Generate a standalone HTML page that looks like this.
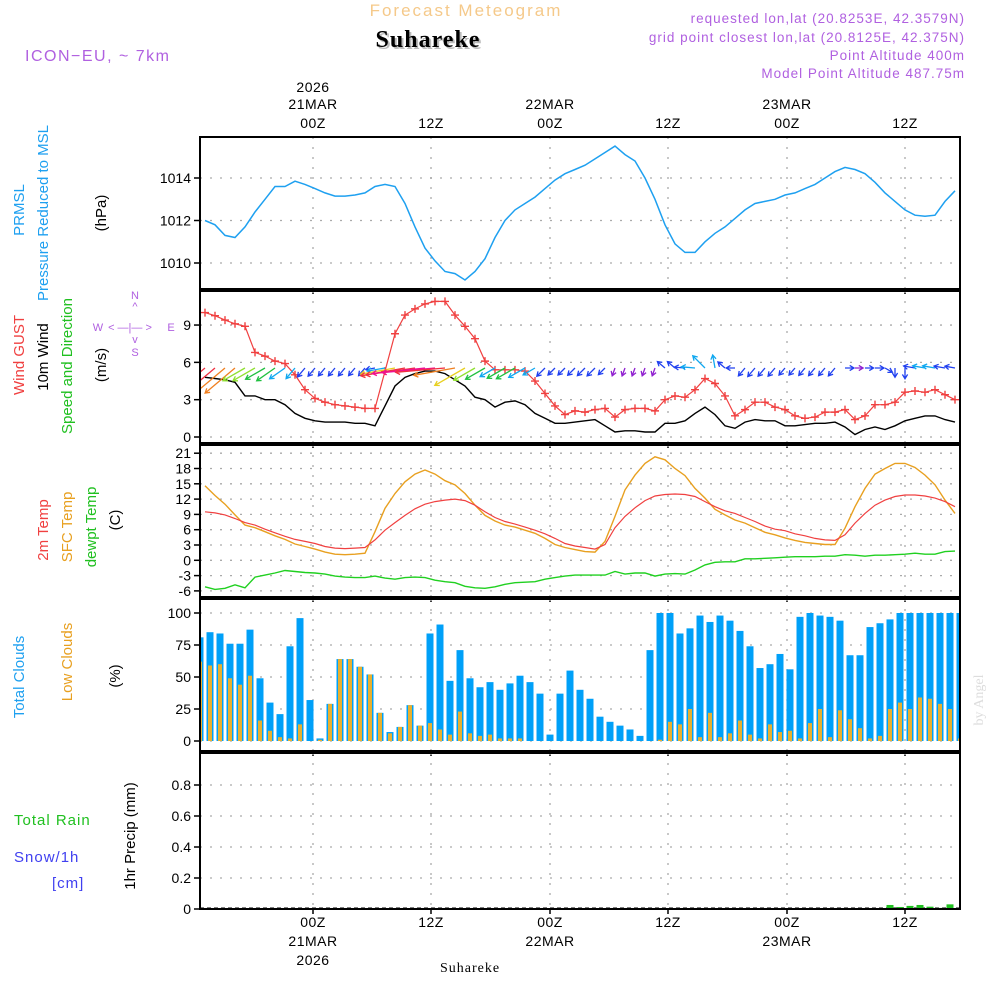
<!DOCTYPE html>
<html><head><meta charset="utf-8">
<style>
html,body{margin:0;padding:0;background:#fff;}
svg{display:block;font-family:"Liberation Sans",sans-serif;}
.t{font-size:14px;fill:#000;letter-spacing:0.5px}
</style></head>
<body>
<svg id="chart" width="1000" height="1000" viewBox="0 0 1000 1000" xmlns="http://www.w3.org/2000/svg">
  <text x="466" y="16" text-anchor="middle" font-size="17" fill="#f5c98a" letter-spacing="2">Forecast Meteogram</text>
  <text x="430" y="49" text-anchor="middle" font-size="24" font-weight="bold" font-family="Liberation Serif,serif" fill="#bbb" letter-spacing="1">Suhareke</text>
  <text x="428" y="47" text-anchor="middle" font-size="24" font-weight="bold" font-family="Liberation Serif,serif" fill="#000" letter-spacing="1">Suhareke</text>
  <text x="25" y="61" font-size="16" fill="#b060e0" letter-spacing="1.5">ICON−EU, ~ 7km</text>
  <g font-size="13.5" fill="#b060e0" text-anchor="end" letter-spacing="1">
    <text x="965" y="23">requested lon,lat (20.8253E, 42.3579N)</text>
    <text x="965" y="42">grid point closest lon,lat (20.8125E, 42.375N)</text>
    <text x="965" y="60">Point Altitude 400m</text>
    <text x="965" y="78">Model Point Altitude 487.75m</text>
  </g>
  <text transform="translate(983,700) rotate(-90)" text-anchor="middle" font-size="14" fill="#ddd" font-family="Liberation Serif,serif">by Angel</text>

  <g font-size="15">
    <text transform="translate(24,210) rotate(-90)" text-anchor="middle" fill="#1ea0f0">PRMSL</text>
    <text transform="translate(48,213) rotate(-90)" text-anchor="middle" fill="#1ea0f0">Pressure Reduced to MSL</text>
    <text transform="translate(106,213) rotate(-90)" text-anchor="middle" fill="#000">(hPa)</text>
    <text transform="translate(24,355) rotate(-90)" text-anchor="middle" fill="#f04040">Wind GUST</text>
    <text transform="translate(48,357) rotate(-90)" text-anchor="middle" fill="#000">10m Wind</text>
    <text transform="translate(72,366) rotate(-90)" text-anchor="middle" fill="#20c020">Speed and Direction</text>
    <text transform="translate(106,365) rotate(-90)" text-anchor="middle" fill="#000">(m/s)</text>
    <text transform="translate(48,530) rotate(-90)" text-anchor="middle" fill="#f04040">2m Temp</text>
    <text transform="translate(72,527) rotate(-90)" text-anchor="middle" fill="#e8a020">SFC Temp</text>
    <text transform="translate(96,527) rotate(-90)" text-anchor="middle" fill="#20c020">dewpt Temp</text>
    <text transform="translate(120,520) rotate(-90)" text-anchor="middle" fill="#000">(C)</text>
    <text transform="translate(24,677) rotate(-90)" text-anchor="middle" fill="#1ea0f0">Total Clouds</text>
    <text transform="translate(72,662) rotate(-90)" text-anchor="middle" fill="#e8a020">Low Clouds</text>
    <text transform="translate(120,676) rotate(-90)" text-anchor="middle" fill="#000">(%)</text>
    <text x="14" y="825" fill="#20c020" letter-spacing="1">Total  Rain</text>
    <text x="14" y="862" fill="#4040f0" letter-spacing="1">Snow/1h</text>
    <text x="52" y="888" fill="#4040f0" letter-spacing="1">[cm]</text>
    <text transform="translate(135,836) rotate(-90)" text-anchor="middle" fill="#000">1hr Precip (mm)</text>
  </g>
  <g font-size="11" fill="#b060e0" text-anchor="middle">
    <text x="135" y="299">N</text><text x="135" y="310">^</text>
    <text x="98" y="331">W</text><text x="130" y="331">&lt; —|— &gt;</text>
    <text x="171" y="331">E</text>
    <text x="135" y="343">v</text><text x="135" y="356">S</text>
  </g>
  <g id="plots"></g>
</svg>
<script>
// ---- data (hourly) ----
const timeLabelsTop = ["00Z","12Z","00Z","12Z","00Z","12Z"];
const dateLabels = ["21MAR","","22MAR","","23MAR",""];
const pressure = [1012.0,1011.8,1011.3,1011.2,1011.7,1012.4,1013.0,1013.6,1013.6,1013.85,1013.7,1013.5,1013.3,1013.15,1013.15,1013.2,1013.3,1013.6,1013.7,1013.6,1012.8,1011.7,1010.7,1010.1,1009.6,1009.5,1009.2,1009.6,1010.2,1011.2,1012.0,1012.5,1012.8,1013.1,1013.5,1013.9,1014.2,1014.4,1014.6,1014.9,1015.2,1015.5,1015.1,1014.8,1014.0,1013.0,1011.8,1010.9,1010.5,1010.5,1011.0,1011.4,1011.7,1012.1,1012.5,1012.8,1012.9,1013.0,1013.2,1013.3,1013.5,1013.7,1014.0,1014.3,1014.5,1014.4,1014.2,1013.8,1013.3,1012.9,1012.5,1012.25,1012.2,1012.25,1012.9,1013.4];
const windGust = [10.0,9.75,9.4,9.1,8.9,6.8,6.5,6.1,5.9,5.0,3.8,3.1,2.8,2.6,2.5,2.4,2.3,2.3,5.3,8.3,9.8,10.3,10.7,10.9,10.9,9.8,8.9,7.9,6.1,5.4,5.4,5.4,5.3,4.5,3.5,2.5,1.8,2.1,2.0,2.2,2.3,1.6,2.2,2.3,2.3,2.1,3.0,3.3,3.2,3.8,4.7,4.3,3.3,1.7,2.2,2.8,2.8,2.4,2.2,1.7,1.5,1.6,2.0,2.0,2.2,1.4,1.7,2.6,2.6,2.8,3.6,3.7,3.6,3.8,3.4,3.0];
const windSpeed = [4.8,4.7,4.6,4.4,3.3,3.3,3.0,3.0,2.6,1.9,1.5,1.3,1.2,1.2,1.2,1.1,1.1,0.9,2.5,4.1,4.8,5.1,5.3,5.3,5.1,4.6,4.1,3.2,3.0,2.4,2.8,2.9,2.6,1.9,1.5,1.1,1.1,1.2,1.3,1.4,0.9,0.4,0.5,0.5,0.4,0.4,1.1,1.1,1.3,1.9,2.4,1.8,0.9,0.7,1.2,1.4,1.3,1.3,0.9,0.9,1.0,1.1,1.1,1.2,0.8,0.2,0.6,0.8,0.6,0.9,1.3,1.5,1.7,1.7,1.4,1.2];
const windDir = [50,50,50,50,60,60,60,55,55,40,40,40,40,40,40,40,40,80,80,80,80,82,84,85,85,80,60,60,60,60,60,60,60,60,45,45,45,45,45,45,45,20,20,20,20,20,130,130,95,95,135,170,130,90,40,40,40,40,40,40,40,40,40,40,270,270,270,270,300,0,0,100,100,100,100,100];
const temp2m = [9.5,9.3,8.9,8.2,7.4,6.9,6.1,5.4,4.7,4.1,3.7,3.3,2.7,2.4,2.3,2.4,2.5,4.0,5.9,7.4,8.8,10.1,11.0,11.5,11.8,12.0,11.7,10.8,9.5,8.4,7.6,7.1,6.5,5.9,5.2,4.3,3.3,2.8,2.5,2.2,3.1,6.4,8.6,10.3,11.7,12.6,12.9,13.0,12.9,12.5,11.5,10.5,9.7,9.2,8.4,7.6,6.7,6.1,5.8,5.2,4.8,4.3,4.0,3.9,5.0,7.3,9.2,10.8,11.8,12.5,12.8,12.8,12.6,12.2,11.5,10.5];
const tempSfc = [14.6,12.7,11.0,8.9,6.9,6.4,5.6,4.8,4.1,3.2,2.7,2.2,1.6,1.2,1.1,1.2,1.4,5.6,10.2,13.1,15.4,16.9,17.7,16.9,15.6,14.8,13.1,10.8,8.8,7.7,6.9,6.5,5.9,5.3,4.3,3.1,2.5,2.1,1.7,1.6,3.7,8.6,13.8,16.7,19.0,20.3,19.7,18.0,16.6,14.1,12.2,10.0,8.9,7.9,7.3,6.4,5.5,5.0,4.4,3.9,3.5,3.3,3.1,3.1,6.3,10.5,14.1,16.9,18.0,19.0,19.0,18.2,16.7,14.8,11.8,9.2];
const dewpt = [-5.2,-5.7,-5.5,-4.8,-5.4,-3.3,-2.9,-2.5,-2.0,-2.2,-2.4,-2.5,-2.7,-3.1,-3.3,-3.4,-3.4,-3.1,-3.5,-3.7,-3.4,-3.3,-3.4,-3.9,-4.2,-4.4,-5.1,-5.4,-5.5,-5.2,-4.7,-4.4,-4.3,-4.2,-3.7,-3.4,-3.1,-2.9,-2.9,-2.9,-2.9,-2.2,-2.7,-2.5,-2.5,-3.1,-2.7,-2.6,-2.7,-1.9,-0.9,-0.4,-0.3,-0.3,0.3,0.3,0.4,0.5,0.6,0.7,0.7,0.7,0.8,0.8,1.1,1.0,0.8,1.0,1.0,1.1,1.2,1.4,1.2,1.2,1.7,1.8];
const totalClouds = [81,85,84,76,76,87,49,30,21,74,96,32,2,29,64,64,58,52,22,7,11,28,12,84,91,47,71,49,42,46,40,45,51,46,37,5,37,55,40,33,19,15,12,9,4,71,100,100,84,88,98,93,98,94,86,74,57,60,68,56,97,100,98,97,94,67,67,89,92,95,100,100,100,100,100,100,100];
const lowClouds = [62,59,60,49,44,51,16,8,3,2,13,0,1,29,64,64,58,52,22,6,11,28,12,14,9,5,23,6,4,5,2,2,2,0,0,0,0,0,0,0,0,0,0,0,0,0,1,15,13,25,3,22,3,6,16,5,2,13,7,8,2,14,25,3,24,17,10,2,4,25,30,25,34,33,29,25,2];
const precip = [0,0,0,0,0,0,0,0,0,0,0,0,0,0,0,0,0,0,0,0,0,0,0,0,0,0,0,0,0,0,0,0,0,0,0,0,0,0,0,0,0,0,0,0,0,0,0,0,0,0,0,0,0,0,0,0,0,0,0,0,0,0,0,0,0,0,0,0,0,0.026,0.013,0.02,0.026,0.015,0.007,0.03,0];
const pressureTicks = [1010,1012,1014];
const windTicks = [0,3,6,9];
const tempTicks = [-6,-3,0,3,6,9,12,15,18,21];
const cloudTicks = [0,25,50,75,100];
const precipTicks = [0,0.2,0.4,0.6,0.8];

// ---- layout / scales ----
const NS="http://www.w3.org/2000/svg";
const X0=200,X1=960;
const lineX = i => 205 + i*10;
const barX = i => 200 + i*10;
const gridXs = [313,431,550,668,787,905];
const panels = {
  pres:{top:137,bot:289,y:v=>263-(v-1010)*21.25},
  wind:{top:291,bot:443,y:v=>437-v*12.44},
  temp:{top:445,bot:597,y:v=>560.3-v*5.1},
  cloud:{top:599,bot:751,y:v=>741-v*1.28},
  precip:{top:753,bot:909,y:v=>909-v*155}
};
const root=document.getElementById('plots');
function el(tag,attrs,parent){const e=document.createElementNS(NS,tag);for(const k in attrs)e.setAttribute(k,attrs[k]);(parent||root).appendChild(e);return e;}

const clip=el('clipPath',{id:'plotclip'});
el('rect',{x:X0,y:0,width:X1-X0,height:1000},clip);

function panel(key,ticks,fmt,name){
  const p=panels[key];
  const g=el('g',{});
  
  
  ticks.forEach(t=>{
    const y=p.y(t);
    const gl=el('line',{x1:X0,x2:X1,y1:y,y2:y,stroke:'#aaa','stroke-width':1.3,'stroke-dasharray':'2,8'},g);
    
    
    el('line',{x1:X0-6,x2:X0,y1:y,y2:y,stroke:'#000','stroke-width':1.5},g);
    const tx=el('text',{x:X0-9,y:y+5,'text-anchor':'end','font-size':14,fill:'#000'},g);
    tx.textContent=fmt(t);
    
    
  });
  gridXs.forEach(x=>{
    el('line',{x1:x,x2:x,y1:p.top,y2:p.bot,stroke:'#aaa','stroke-width':1.3,'stroke-dasharray':'2,8'},g);
    el('line',{x1:x,x2:x,y1:p.bot,y2:p.bot+5,stroke:'#000','stroke-width':1.5},g);
  });
  return g;
}
function frame(key,name){
  const p=panels[key];
  const r=el('rect',{x:X0,y:p.top,width:X1-X0,height:p.bot-p.top,fill:'none',stroke:'#000','stroke-width':2});
  
  
}
function line(arr,yf,color,name,w){
  const pts=arr.map((v,i)=>lineX(i)+','+yf(v).toFixed(1)).join(' ');
  const l=el('polyline',{points:pts,fill:'none',stroke:color,'stroke-width':w||1.3,'clip-path':'url(#plotclip)'});
  
  
  return l;
}

// pressure
panel('pres',pressureTicks,v=>String(v),'pressure');
line(pressure,panels.pres.y,'#1ea0f0','pressure-line',1.5);
frame('pres','pressure');

// wind
panel('wind',windTicks,v=>String(v),'wind');
line(windSpeed,panels.wind.y,'#000','wind-speed-line',1.4);
line(windGust,panels.wind.y,'#f04040','wind-gust-line',1.2);
windGust.forEach((v,i)=>{
  const x=lineX(i),y=panels.wind.y(v);
  const m=el('path',{d:`M${x-4} ${y}H${x+4}M${x} ${y-4}V${y+4}`,stroke:'#f04040','stroke-width':1.4,'clip-path':'url(#plotclip)'});
  
  
});
function windColor(s){
  if(s<0.6) return '#9020d0';
  if(s<1.6) return '#2040f0';
  if(s<2.7) return '#10a8f0';
  if(s<3.1) return '#20c040';
  if(s<3.5) return '#90e030';
  if(s<4.2) return '#e8d020';
  if(s<4.7) return '#f08020';
  if(s<5.2) return '#f03040';
  return '#f01090';
}
windDir.forEach((d,i)=>{
  const s=windSpeed[i];
  const len=8+s*s*1.6;
  const rad=d*Math.PI/180;
  const x=lineX(i),y=368;
  const hx=x-Math.sin(rad)*len, hy=y+Math.cos(rad)*len;
  const ang=Math.atan2(hy-y,hx-x);
  const a1=ang+2.6,a2=ang-2.6,h=5;
  const c=windColor(s);
  const a=el('path',{d:`M${x} ${y}L${hx.toFixed(1)} ${hy.toFixed(1)}M${(hx+h*Math.cos(a1)).toFixed(1)} ${(hy+h*Math.sin(a1)).toFixed(1)}L${hx.toFixed(1)} ${hy.toFixed(1)}L${(hx+h*Math.cos(a2)).toFixed(1)} ${(hy+h*Math.sin(a2)).toFixed(1)}`,stroke:c,'stroke-width':1.3,fill:'none','clip-path':'url(#plotclip)'});
  
  
});
frame('wind','wind');

// temperature
panel('temp',tempTicks,v=>String(v),'temperature');
line(dewpt,panels.temp.y,'#20d020','dewpoint-line',1.4);
line(tempSfc,panels.temp.y,'#e8a020','sfc-temp-line',1.4);
line(temp2m,panels.temp.y,'#f04040','temp-2m-line',1.2);
frame('temp','temperature');

// clouds
panel('cloud',cloudTicks,v=>String(v),'clouds');
totalClouds.forEach((v,i)=>{
  const y=panels.cloud.y(v);
  const r=el('rect',{x:barX(i)-3.5,y:y,width:7,height:741-y,fill:'#00a0f8','clip-path':'url(#plotclip)'});
  
  
});
lowClouds.forEach((v,i)=>{
  const y=panels.cloud.y(v);
  const r=el('rect',{x:barX(i)-2,y:y,width:4,height:741-y,fill:'#e8b030','clip-path':'url(#plotclip)'});
  
  
});
frame('cloud','clouds');

// precip
panel('precip',precipTicks,v=>v===0?'0':v.toFixed(1),'precip');
el('line',{x1:X0,x2:X1,y1:908,y2:908,stroke:'#000','stroke-width':1,'stroke-dasharray':'4,3'});
precip.forEach((v,i)=>{
  if(v<=0) return;
  const y=panels.precip.y(v);
  const r=el('rect',{x:barX(i)-3.5,y:y,width:7,height:909-y,fill:'#20c020','clip-path':'url(#plotclip)'});
  
  
});
frame('precip','precip');

// time labels
gridXs.forEach((x,k)=>{
  const t=el('text',{x:x,y:128,'text-anchor':'middle',class:'t','font-size':15});
  t.textContent=timeLabelsTop[k];
  
  
  if(dateLabels[k]){
    const d=el('text',{x:x,y:109,'text-anchor':'middle',class:'t','font-size':15});
    d.textContent=dateLabels[k];
    
    
    const d2=el('text',{x:x,y:946,'text-anchor':'middle',class:'t','font-size':15});
    d2.textContent=dateLabels[k];
    
    
  }
  const b=el('text',{x:x,y:927,'text-anchor':'middle',class:'t','font-size':15});
  b.textContent=timeLabelsTop[k];
  
  
});
const y1=el('text',{x:313,y:92,'text-anchor':'middle',class:'t','font-size':15});y1.textContent='2026';


const y2=el('text',{x:313,y:965,'text-anchor':'middle',class:'t','font-size':15});y2.textContent='2026';


const loc=el('text',{x:470,y:972,'text-anchor':'middle','font-size':14,'font-family':'Liberation Serif,serif',fill:'#000','letter-spacing':1});loc.textContent='Suhareke';


</script>
</body></html>
